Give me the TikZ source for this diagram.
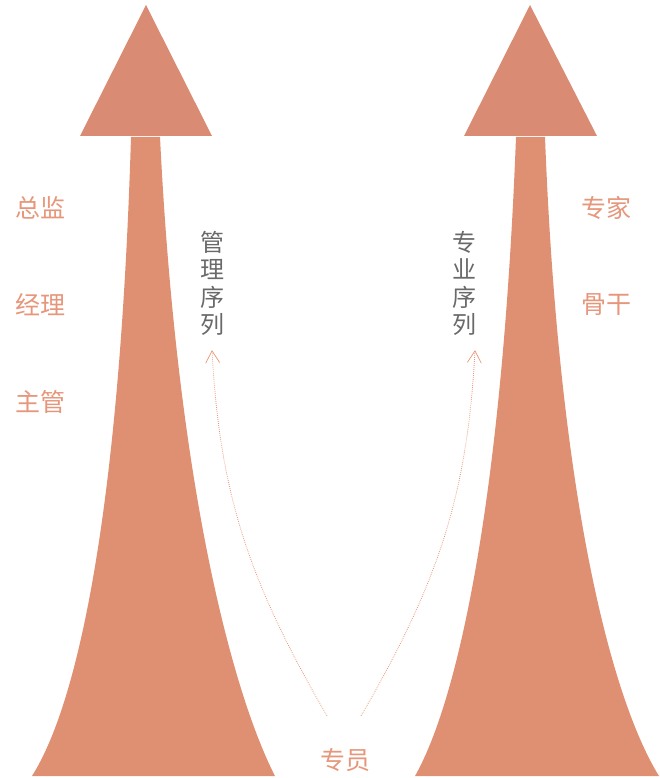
\documentclass[tikz,border=0pt]{standalone}
\usepackage{fontspec}
\newfontfamily\cjk{Noto Sans CJK SC}
\usepackage{xcolor}
\usepackage{tikz}
\usetikzlibrary{arrows.meta}
\usetikzlibrary{positioning}
\definecolor{headclr}{RGB}{217,140,115}
\definecolor{shaftclr}{RGB}{224,144,114}
\definecolor{rankclr}{RGB}{230,150,122}
\definecolor{seqclr}{RGB}{105,105,105}
\tikzstyle{ranknode}=[text=rankclr, font=\cjk\fontsize{25}{27}\selectfont, inner sep=0pt, anchor=center]
\tikzstyle{seqnode}=[text=seqclr, font=\cjk\fontsize{24}{27.5}\selectfont, inner sep=0pt, align=center]
\tikzstyle{pathline}=[rankclr, line width=0.8pt, dash pattern=on 0.8pt off 1.2pt, -{Straight Barb[length=12pt, width=14pt, line width=0.7pt]}]

\begin{document}
\begin{tikzpicture}[x=1pt, y=-1pt]
\useasboundingbox (0,0) rectangle (659,778);

\fill[shaftclr] (131,137) .. controls (120,500) and (80,700) .. (32,776) -- (275,776) .. controls (236,700) and (178,500) .. (160,137) -- cycle;
\fill[headclr] (146,5) -- (212,136) -- (80,136) -- cycle;

\fill[shaftclr] (516,137) .. controls (502,500) and (458,700) .. (415,776) -- (659,776) .. controls (612,700) and (559,500) .. (545,137) -- cycle;
\fill[headclr] (530,5) -- (597,136) -- (464,136) -- cycle;

\node [ranknode] (director) at (40,208) {总监};
\node [ranknode] (manager) at (40,305) {经理};
\node [ranknode] (supervisor) at (40,402) {主管};
\node [ranknode] (expert) at (606,208) {专家};
\node [ranknode] (backbone) at (606,305) {骨干};
\node [ranknode] (staff) at (345,760) {专员};

\node [seqnode, anchor=north] (mgmt) at (212,231) {管\\理\\序\\列};
\node [seqnode, anchor=north] (prof) at (464,231) {专\\业\\序\\列};

\coordinate (mgmtstart) at (327,716);
\coordinate (profstart) at (361,716);

\draw[pathline] (mgmtstart) to[out=120, in=-87] ([yshift=-14pt]mgmt.south);
\draw[pathline] (profstart) to[out=60, in=-93] ([yshift=-14pt, xshift=11pt]prof.south);
\end{tikzpicture}
\end{document}
